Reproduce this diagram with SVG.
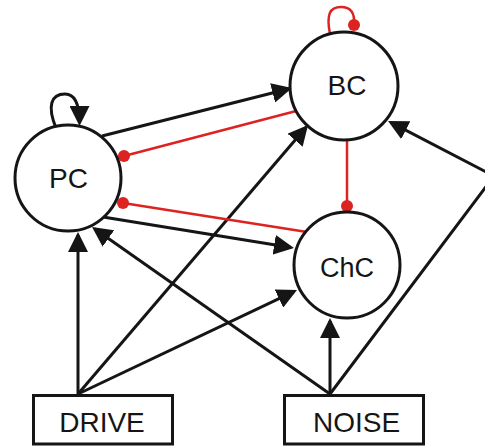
<svg xmlns="http://www.w3.org/2000/svg" width="485" height="446" viewBox="0 0 485 446">
<style>
.node{fill:#fff;stroke:#151515;stroke-width:3}
.lbl{font-family:"Liberation Sans",Arial,sans-serif;font-size:28px;fill:#151515;text-anchor:middle}
.exc{fill:none;stroke:#151515;stroke-width:3;marker-end:url(#arr)}
.inh{fill:none;stroke:#dd2222;stroke-width:2.5}
.dot{fill:#dd2222}
</style>
<defs>
<marker id="arr" markerUnits="userSpaceOnUse" markerWidth="20" markerHeight="20" refX="17" refY="10" orient="auto">
<path d="M0,0 L20,10 L0,20 z" fill="#151515"/>
</marker>
</defs>
<rect width="485" height="446" fill="#fff"/>
<g id="connectors">
<line class="exc" x1="102" y1="136" x2="289.1" y2="88.7"/>
<line class="exc" x1="103" y1="217" x2="291" y2="247.5"/>
<line class="exc" x1="78" y1="394" x2="78" y2="235"/>
<line class="exc" x1="330" y1="394" x2="94.5" y2="228.7"/>
<line class="exc" x1="78" y1="394" x2="306.1" y2="127.3"/>
<line class="exc" x1="78" y1="394" x2="294.3" y2="291.3"/>
<line class="exc" x1="330" y1="394" x2="330" y2="321"/>
<polyline class="exc" points="330,394 494,176 390.7,122.4"/>
<path class="exc" d="M56,128 C47,106 51,94 65,94 C76,94 79.5,105 79.5,123"/>
<path class="inh" d="M330,34 C326,14 330,7 341,7 C351,7 355,13 354,25"/>
<circle class="dot" cx="354" cy="25" r="6"/>
<line class="inh" x1="300" y1="110" x2="124" y2="156"/>
<circle class="dot" cx="124" cy="156" r="6"/>
<line class="inh" x1="307" y1="232" x2="123" y2="203"/>
<circle class="dot" cx="123" cy="203" r="6"/>
<line class="inh" x1="347" y1="140" x2="347" y2="206"/>
<circle class="dot" cx="347" cy="206" r="6"/>
</g>
<g id="PC">
<circle class="node" cx="68" cy="178" r="53"/>
<text class="lbl" x="68.5" y="188">PC</text>
</g>
<g id="BC">
<circle class="node" cx="344" cy="86" r="54"/>
<text class="lbl" x="347" y="95">BC</text>
</g>
<g id="ChC">
<circle class="node" cx="347" cy="265" r="53"/>
<text class="lbl" x="347" y="276.5" style="font-size:27px">ChC</text>
</g>
<g id="DRIVE">
<rect class="node" x="33.5" y="395.5" width="139" height="48.5"/>
<text class="lbl" x="102" y="431.5">DRIVE</text>
</g>
<g id="NOISE">
<rect class="node" x="284.5" y="395.5" width="139" height="48.5"/>
<text class="lbl" x="356.5" y="431.5">NOISE</text>
</g>
</svg>
